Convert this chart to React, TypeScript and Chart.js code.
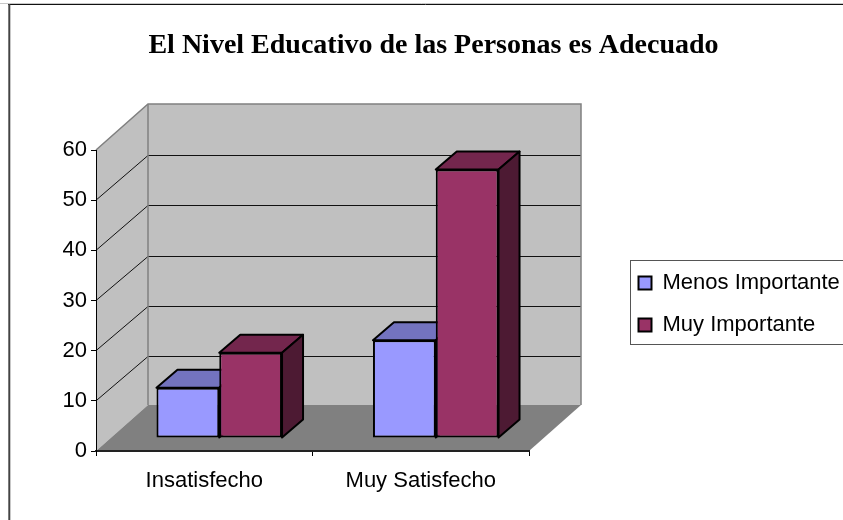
import React, { useEffect, useRef } from "react";
import { Chart, registerables } from "chart.js";

Chart.register(...registerables);

const categories = ["Insatisfecho", "Muy Satisfecho"];
const menosImportante = [10, 19.5];
const muyImportante = [17, 53.5];
const yTicksMax = 60;
const titleText = "El Nivel Educativo de las Personas es Adecuado";

const WALL_DX = 52;
const WALL_DY = 46;
const BAR_SHIFT_X = 15;
const BAR_SHIFT_Y = 13;
const BAR_DX = 21;
const BAR_DY = 18;

const poly = (ctx: CanvasRenderingContext2D, pts: number[][]) => {
  ctx.beginPath();
  pts.forEach(([x, y], i) => (i ? ctx.lineTo(x, y) : ctx.moveTo(x, y)));
  ctx.closePath();
};

const shade = (rgb: number[], f: number) =>
  `rgb(${rgb.map((v) => Math.round(v * f)).join(",")})`;

const shades = [
  [153, 153, 255],
  [153, 51, 102],
];

const scene3d = {
  id: "scene3d",
  beforeLayout(chart: any) {
    const lg = chart.legend;
    if (lg && !lg.__wrapped) {
      const fit = lg.fit;
      lg.fit = function () {
        fit.call(this);
        this.width = 314;
      };
      lg.__wrapped = true;
    }
  },
  afterLayout(chart: any) {
    const lg = chart.legend;
    lg.left = 618.5;
    lg.right = 860;
    lg.top = 202;
    lg.bottom = 406;
    const t = chart.titleBlock;
    t.left = 24;
    t.right = 843;
  },
  beforeDraw(chart: any) {
    const { ctx, chartArea: a, scales } = chart;
    const y = scales.y;
    ctx.save();
    // chart frame
    ctx.fillStyle = "#fff";
    ctx.fillRect(0, 0, chart.width, chart.height);
    ctx.strokeStyle = "#c8c8c8";
    ctx.lineWidth = 1;
    ctx.beginPath();
    ctx.moveTo(0, 3.5);
    ctx.lineTo(843, 3.5);
    ctx.stroke();
    ctx.strokeStyle = "#111";
    ctx.beginPath();
    ctx.moveTo(8, 4.5);
    ctx.lineTo(843, 4.5);
    ctx.stroke();
    ctx.strokeStyle = "#444";
    ctx.lineWidth = 2;
    ctx.beginPath();
    ctx.moveTo(9.3, 520);
    ctx.lineTo(9.3, 4);
    ctx.stroke();

    const l = a.left, r = a.right, t = a.top, b = a.bottom;
    const bl = l + WALL_DX, br = r + WALL_DX, bt = t - WALL_DY, bb = b - WALL_DY;
    // side wall, back wall, floor
    ctx.fillStyle = "#c0c0c0";
    poly(ctx, [[l, t], [bl, bt], [bl, bb], [l, b]]);
    ctx.fill();
    poly(ctx, [[bl, bt], [br, bt], [br, bb], [bl, bb]]);
    ctx.fill();
    ctx.fillStyle = "#808080";
    poly(ctx, [[l, b], [bl, bb], [br, bb], [r, b]]);
    ctx.fill();
    // gridlines
    ctx.strokeStyle = "#111";
    ctx.lineWidth = 1;
    y.ticks.forEach((tk: any) => {
      if (tk.value === 0 || tk.value === yTicksMax) return;
      const py = y.getPixelForValue(tk.value);
      const by = Math.round(py - WALL_DY + 1) + 0.5;
      ctx.beginPath();
      ctx.moveTo(l, py);
      ctx.lineTo(bl, by);
      ctx.lineTo(br, by);
      ctx.stroke();
    });
    // wall edges
    ctx.strokeStyle = "#808080";
    ctx.lineWidth = 1.5;
    ctx.beginPath();
    ctx.moveTo(l, t);
    ctx.lineTo(bl, bt);
    ctx.lineTo(br, bt);
    ctx.lineTo(br, bb);
    ctx.stroke();
    ctx.beginPath();
    ctx.moveTo(bl, bt);
    ctx.lineTo(bl, bb);
    ctx.stroke();
    ctx.restore();
  },
  beforeDatasetsDraw(chart: any) {
    const { ctx } = chart;
    ctx.save();
    ctx.translate(BAR_SHIFT_X, -BAR_SHIFT_Y);
    ctx.strokeStyle = "#000";
    ctx.lineWidth = 2;
    ctx.lineJoin = "round";
    chart.data.datasets.forEach((_: any, di: number) => {
      chart.getDatasetMeta(di).data.forEach((bar: any) => {
        const x0 = bar.x - bar.width / 2;
        const x1 = bar.x + bar.width / 2;
        ctx.fillStyle = shade(shades[di], 0.75);
        poly(ctx, [[x0, bar.y], [x0 + BAR_DX, bar.y - BAR_DY], [x1 + BAR_DX, bar.y - BAR_DY], [x1, bar.y]]);
        ctx.fill();
        ctx.stroke();
        ctx.fillStyle = shade(shades[di], 0.5);
        poly(ctx, [[x1, bar.y], [x1 + BAR_DX, bar.y - BAR_DY], [x1 + BAR_DX, bar.base - BAR_DY], [x1, bar.base]]);
        ctx.fill();
        ctx.stroke();
      });
    });
  },
  afterDatasetsDraw(chart: any) {
    chart.ctx.restore();
  },
  afterDraw(chart: any) {
    const { ctx } = chart;
    ctx.save();
    ctx.strokeStyle = "#555";
    ctx.lineWidth = 1;
    ctx.strokeRect(630.5, 260.5, 240, 84);
    ctx.restore();
  },
};

export default function App() {
  const ref = useRef<HTMLCanvasElement>(null);
  useEffect(() => {
    document.body.style.margin = "0";
    const chart = new Chart(ref.current!, {
      type: "bar",
      data: {
        labels: categories,
        datasets: [
          {
            label: "Menos Importante",
            data: menosImportante,
            backgroundColor: "#9999ff",
            borderColor: "#000",
            borderWidth: 2,
            borderSkipped: false,
            clip: false,
          },
          {
            label: "Muy Importante",
            data: muyImportante,
            backgroundColor: "#993366",
            borderColor: "#000",
            borderWidth: 2,
            borderSkipped: false,
            clip: false,
          },
        ],
      } as any,
      options: {
        animation: false,
        responsive: false,
        events: [],
        layout: { padding: 0 },
        datasets: { bar: { barPercentage: 1, categoryPercentage: 0.58 } },
        plugins: {
          title: {
            display: true,
            text: titleText,
            color: "#000",
            font: { family: "'Liberation Serif'", size: 28, weight: "bold", lineHeight: 1.2 },
            padding: { top: 29, bottom: 87.4 },
          },
          legend: {
            display: true,
            position: "right",
            labels: {
              color: "#000",
              boxWidth: 13,
              boxHeight: 13,
              padding: 20,
              font: { family: "'Liberation Sans'", size: 22 },
            },
          },
          tooltip: { enabled: false },
        },
        scales: {
          x: {
            afterFit: (s: any) => {
              s.height = 69;
            },
            grid: { display: true, drawOnChartArea: false, drawTicks: true, tickLength: 5, offset: true, color: "#000" },
            border: { display: true, color: "#222", width: 2 },
            ticks: {
              color: "#000",
              padding: 12,
              font: { family: "'Liberation Sans'", size: 22 },
              maxRotation: 0,
            },
          },
          y: {
            min: 0,
            max: yTicksMax,
            afterFit: (s: any) => {
              s.width = 96;
            },
            grid: { display: true, drawOnChartArea: false, drawTicks: true, tickLength: 5, color: "#000" },
            border: { display: true, color: "#000", width: 1 },
            ticks: {
              stepSize: 10,
              color: "#000",
              padding: 4,
              font: { family: "'Liberation Sans'", size: 22 },
            },
          },
        },
      } as any,
      plugins: [scene3d],
    } as any);
    return () => chart.destroy();
  }, []);
  return <canvas ref={ref} width={843} height={520} style={{ display: "block" }} />;
}
